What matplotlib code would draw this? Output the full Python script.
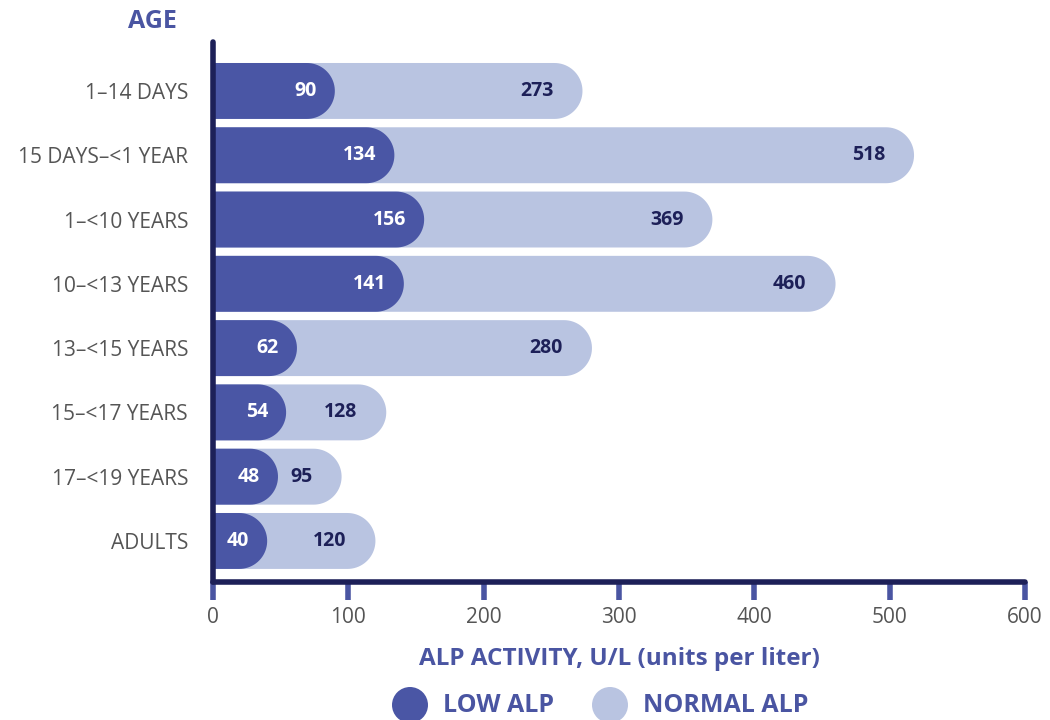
import numpy as np
import matplotlib.pyplot as plt
from matplotlib.path import Path
from matplotlib.patches import PathPatch, Circle

plt.rcParams['font.family'] = ['Open Sans', 'DejaVu Sans']

# datos
edades = ['1–14 DAYS', '15 DAYS–<1 YEAR', '1–<10 YEARS', '10–<13 YEARS',
          '13–<15 YEARS', '15–<17 YEARS', '17–<19 YEARS', 'ADULTS']
alp_bajo = [90, 134, 156, 141, 62, 54, 48, 40]
alp_normal = [273, 518, 369, 460, 280, 128, 95, 120]
ticks_x = [0, 100, 200, 300, 400, 500, 600]

c_bajo = '#4a56a5'
c_normal = '#b9c4e1'
c_azul = '#4a55a2'
c_navy = '#1d2058'
c_gris = '#555555'

fig = plt.figure(figsize=(10.5, 7.2), dpi=100)
ax = fig.add_axes([0.2029, 0.1917, 0.7733, 0.75])
ax.set_xlim(0, 600)
ax.set_ylim(7.638, -0.762)

alto = 0.87
# radio del extremo redondeado en unidades de datos (x), para que se vea circular
px_x = 0.7733 * 1050 / 600
px_y = 0.75 * 720 / 8.4
rx = (alto / 2) * px_y / px_x
ry = alto / 2


def barra_redondeada(y, v, color):
    t = np.linspace(-np.pi / 2, np.pi / 2, 40)
    xc = v - rx
    xs = [0, xc] + list(xc + rx * np.cos(t)) + [xc, 0, 0]
    ys = [y + ry, y + ry] + list(y + ry * np.sin(-t)) + [y - ry, y - ry, y + ry]
    verts = list(zip(xs, ys))
    codes = [Path.MOVETO] + [Path.LINETO] * (len(verts) - 2) + [Path.CLOSEPOLY]
    ax.add_patch(PathPatch(Path(verts, codes), facecolor=color, edgecolor='none', zorder=2))


for i, (lo, no) in enumerate(zip(alp_bajo, alp_normal)):
    barra_redondeada(i, no, c_normal)
    barra_redondeada(i, lo, c_bajo)
    ax.annotate(str(no), (no, i), xytext=(-21, 0), textcoords='offset points',
                ha='right', va='center', fontsize=14, fontweight='bold', color=c_navy, zorder=3)
    ax.annotate(str(lo), (lo, i), xytext=(-13, 0), textcoords='offset points',
                ha='right', va='center', fontsize=14, fontweight='bold', color='white', zorder=3)

# ejes
for s in ['top', 'right']:
    ax.spines[s].set_visible(False)
for s in ['left', 'bottom']:
    ax.spines[s].set_color(c_navy)
    ax.spines[s].set_linewidth(4)
    ax.spines[s].set_capstyle('round')
    ax.spines[s].set_zorder(4)

ax.set_yticks(range(len(edades)))
ax.set_yticklabels(edades, fontsize=15, color=c_gris)
ax.tick_params(axis='y', length=0, pad=18)
ax.set_xticks(ticks_x)
ax.set_xticklabels([str(t) for t in ticks_x], fontsize=15, color=c_gris)
ax.tick_params(axis='x', length=13, width=4, color=c_azul, pad=5)

ax.set_xlabel('ALP ACTIVITY, U/L (units per liter)', fontsize=17.5, fontweight='bold',
              color=c_azul, labelpad=14)
fig.text(152 / 1050, 1 - 21 / 720, 'AGE', fontsize=18, fontweight='bold',
         color=c_azul, ha='center', va='center')

# leyenda (círculos en pulgadas para que se vean redondos)
ly = 705 / 100
alto_fig = 7.2
for cx, tx, col, lab in [(410, 443, c_bajo, 'LOW ALP'), (610, 643, c_normal, 'NORMAL ALP')]:
    fig.patches.append(Circle((cx / 100, alto_fig - ly), 18 / 100, transform=fig.dpi_scale_trans,
                              facecolor=col, edgecolor='none'))
    fig.text(tx / 1050, 1 - 705 / 720, lab, fontsize=18, fontweight='bold', color=c_azul,
             ha='left', va='center')

plt.savefig('out.png', dpi=100)
